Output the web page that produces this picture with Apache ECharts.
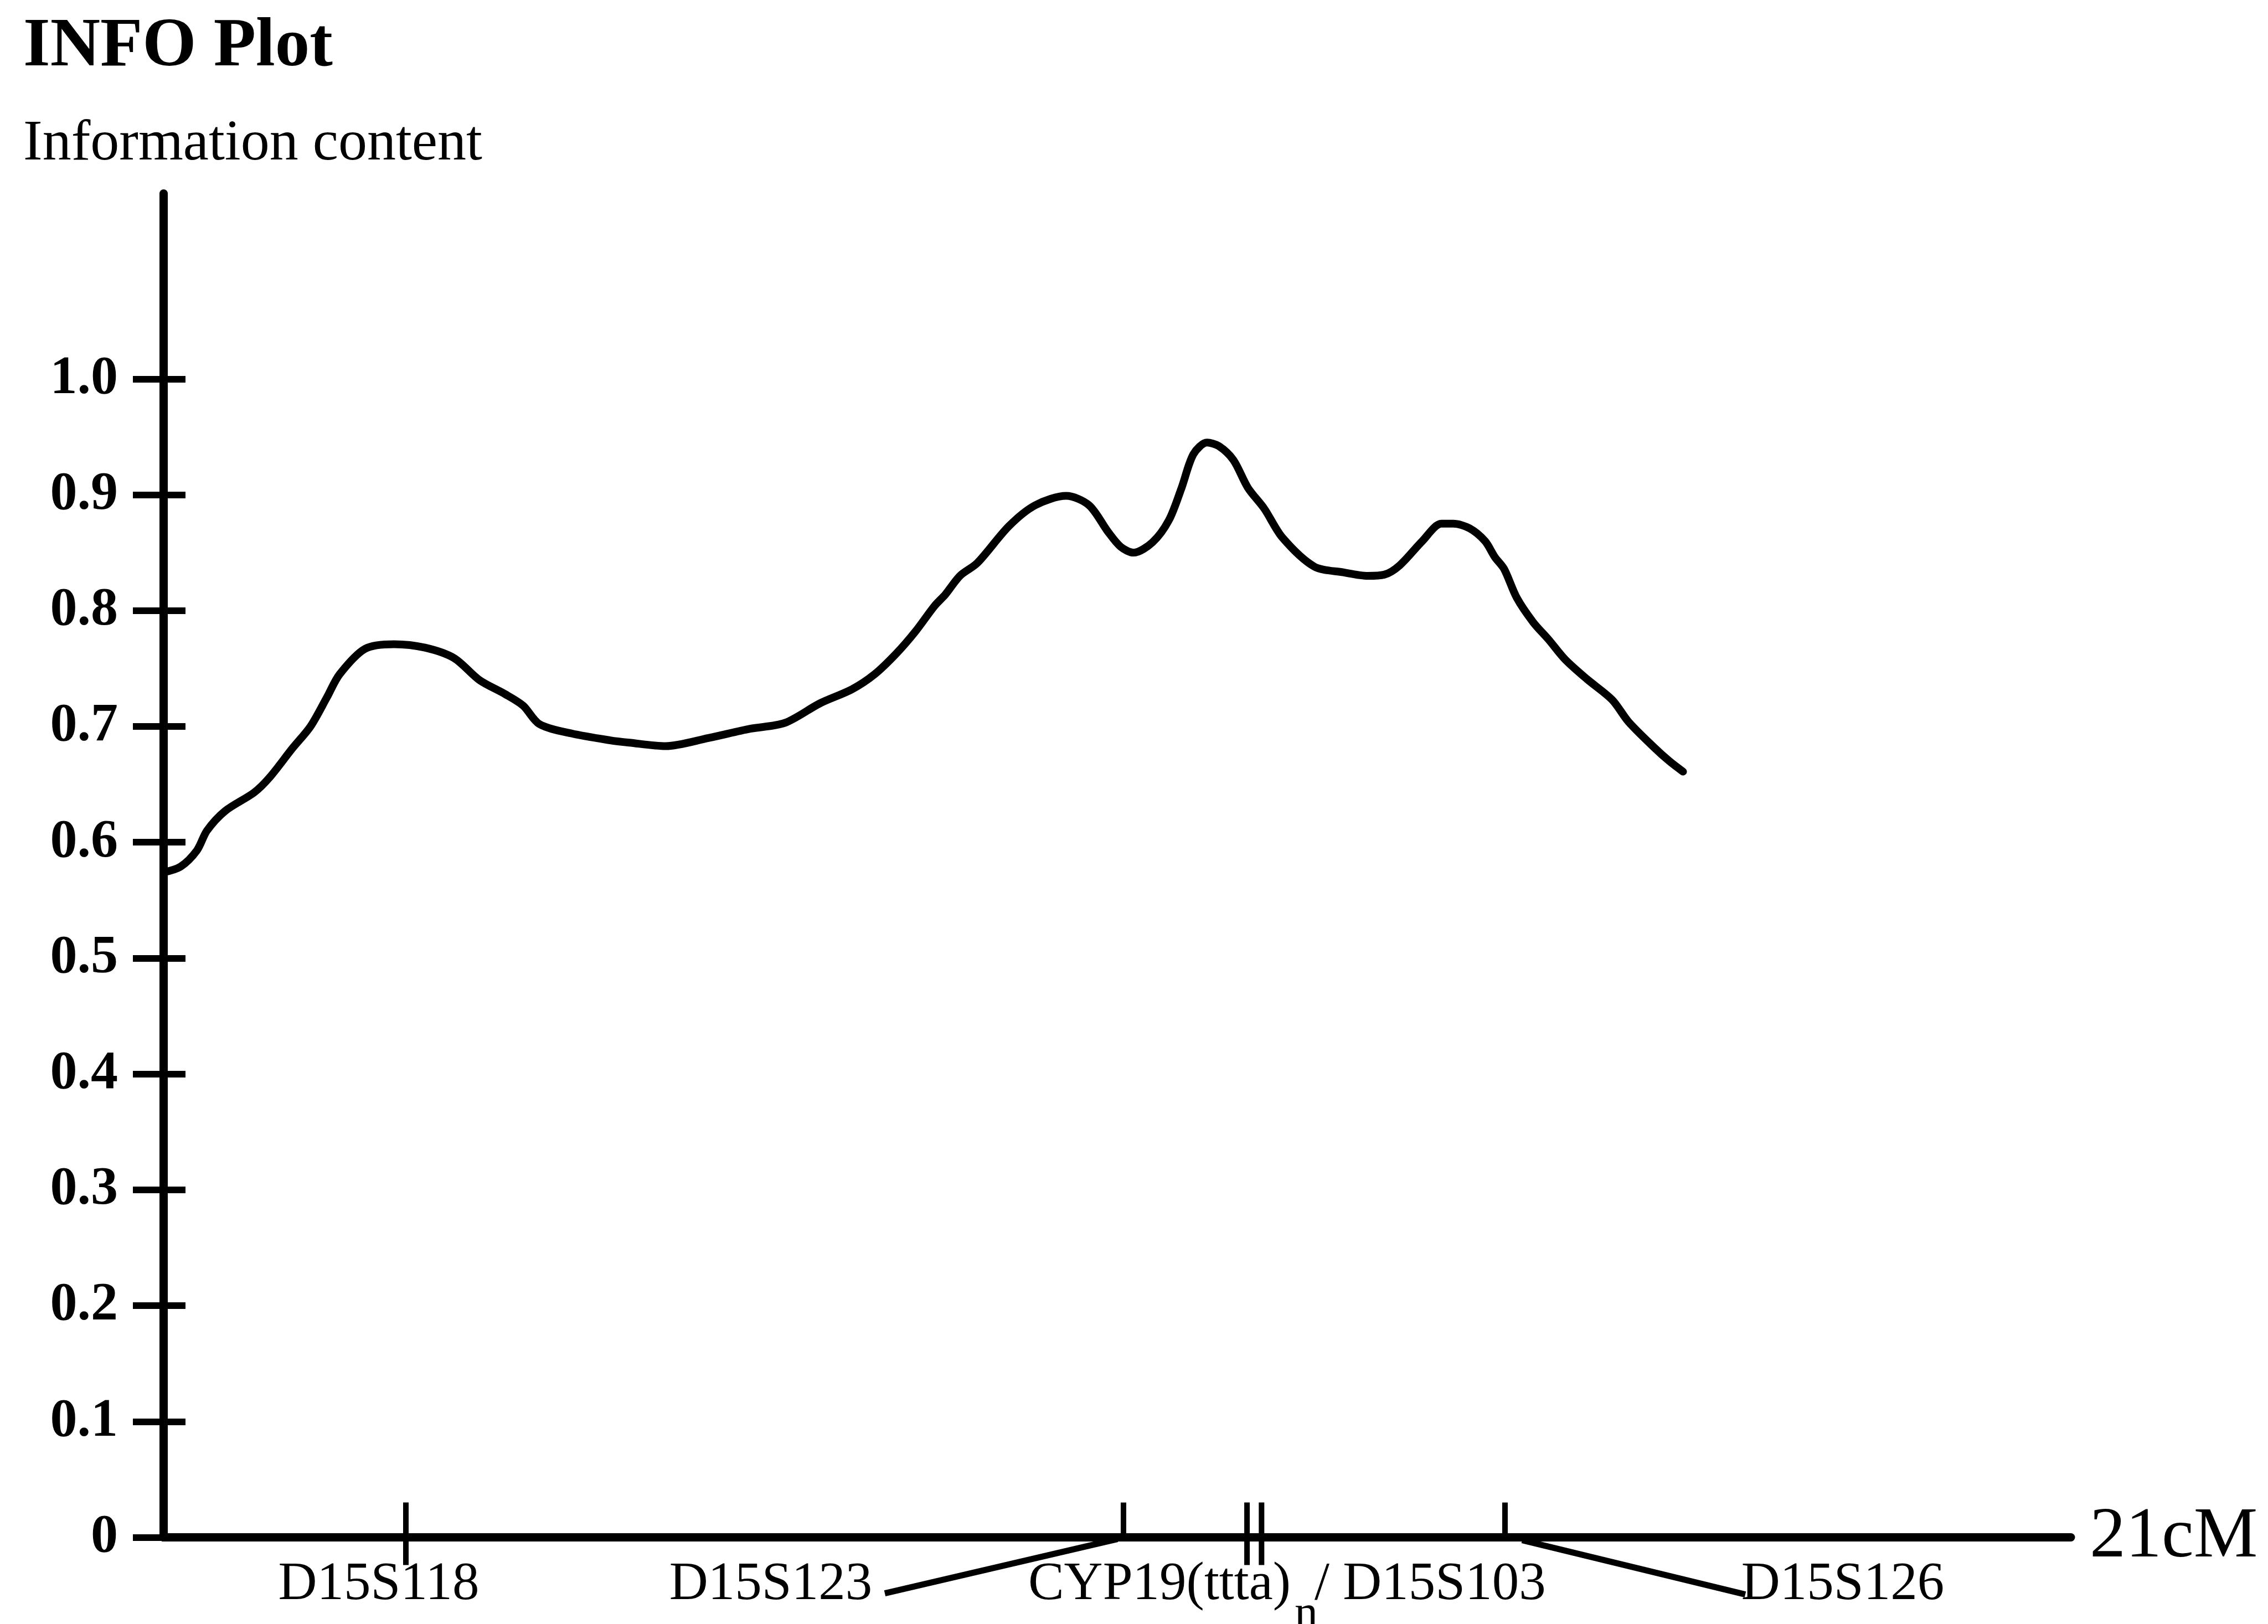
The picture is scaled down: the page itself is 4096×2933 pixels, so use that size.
<!DOCTYPE html>
<html>
<head>
<meta charset="utf-8">
<script src="https://cdn.jsdelivr.net/npm/echarts@6/dist/echarts.min.js"></script>
<style>
html,body{margin:0;padding:0;background:#fff;}
#chart{width:4096px;height:2933px;}
</style>
</head>
<body>
<div id="chart"></div>
<script>
// ---- data ----
const titleText = 'INFO Plot';
const yAxisTitle = 'Information content';
const xAxisTitle = '21cM';
const xMin = 0, xMax = 21;          // cM
const yMin = 0, yMax = 1.16;
const yTicks = [0, 0.1, 0.2, 0.3, 0.4, 0.5, 0.6, 0.7, 0.8, 0.9, 1.0];
const yTickLabels = ['0', '0.1', '0.2', '0.3', '0.4', '0.5', '0.6', '0.7', '0.8', '0.9', '1.0'];

// position along the map (cM)
const curveCM = [0.00, 0.19, 0.37, 0.48, 0.68, 1.00, 1.17, 1.42, 1.62, 1.80,
  1.94, 2.22, 2.54, 2.88, 3.20, 3.48, 3.76, 3.96, 4.14, 4.49,
  4.92, 5.13, 5.53, 6.00, 6.46, 6.84, 7.23, 7.58, 7.83, 8.07,
  8.28, 8.49, 8.61, 8.77, 8.96, 9.31, 9.60, 9.94, 10.19, 10.40,
  10.54, 10.68, 10.89, 11.07, 11.21, 11.34, 11.49, 11.62, 11.78, 11.94,
  12.12, 12.32, 12.67, 12.99, 13.26, 13.44, 13.61, 13.86, 14.07, 14.20,
  14.38, 14.55, 14.66, 14.76, 14.90, 15.08, 15.25, 15.43, 15.67, 15.95,
  16.13, 16.41, 16.58, 16.73];
// information content
const infoContent = [0.574, 0.579, 0.593, 0.610, 0.627, 0.643, 0.656, 0.681, 0.700, 0.725,
  0.745, 0.767, 0.771, 0.768, 0.759, 0.740, 0.728, 0.718, 0.702, 0.694,
  0.688, 0.686, 0.683, 0.690, 0.698, 0.703, 0.720, 0.732, 0.745, 0.763,
  0.782, 0.804, 0.814, 0.830, 0.841, 0.873, 0.891, 0.899, 0.891, 0.868,
  0.855, 0.850, 0.859, 0.878, 0.906, 0.935, 0.945, 0.942, 0.930, 0.906,
  0.888, 0.863, 0.838, 0.833, 0.830, 0.831, 0.839, 0.860, 0.875, 0.875,
  0.871, 0.860, 0.846, 0.836, 0.811, 0.790, 0.775, 0.758, 0.741, 0.723,
  0.704, 0.682, 0.670, 0.661];

// marker positions (cM) and their labels
const markerCM = [2.67, 10.57, 11.93, 12.09, 14.77];
const markerLabels = [['D15S118'], ['D15S123'], ['CYP19(ttta)', 'n', '/ D15S103'], [], ['D15S126']];

// ---- layout / style (pixels) ----
const FONT = '"Liberation Serif", "Times New Roman", serif';
const LBL = 97;
const markerLayout = [
  { up: 63, down: 50, texts: [{ dx: -49, dy: 86, align: 'center', va: 'middle', size: LBL }] },
  { up: 63, down: 0, leader: [-11, 3, -431, 101], texts: [{ dx: -637, dy: 86, align: 'center', va: 'middle', size: LBL }] },
  { up: 63, down: 50, texts: [
      { dx: 79, dy: 86, align: 'right', va: 'middle', size: LBL },
      { dx: 86, dy: 98, align: 'left', va: 'top', size: 84 },
      { dx: 122, dy: 86, align: 'left', va: 'middle', size: LBL }] },
  { up: 63, down: 50, texts: [] },
  { up: 63, down: 0, leader: [31, 5, 434, 103], texts: [{ dx: 610, dy: 86, align: 'center', va: 'middle', size: LBL }] }
];

const chart = echarts.init(document.getElementById('chart'), null, { renderer: 'canvas' });

function labelFor(v) {
  for (let i = 0; i < yTicks.length; i++) if (Math.abs(yTicks[i] - v) < 1e-6) return yTickLabels[i];
  return '';
}

const option = {
  backgroundColor: '#ffffff',
  animation: false,
  title: [
    { text: titleText, left: 37, top: 18,
      textStyle: { fontFamily: FONT, fontWeight: 'bold', fontSize: 125, color: '#000' } },
    { text: yAxisTitle, left: 37, top: 204,
      textStyle: { fontFamily: FONT, fontWeight: 'normal', fontSize: 104, color: '#000' } }
  ],
  grid: { left: 295, right: 356, top: 349.5, bottom: 156.4, containLabel: false },
  xAxis: {
    type: 'value', min: xMin, max: xMax,
    name: xAxisTitle, nameLocation: 'end', nameGap: 34,
    nameTextStyle: { fontFamily: FONT, fontSize: 130, color: '#000', align: 'left', verticalAlign: 'middle', padding: [0, 0, 40, 0] },
    axisLine: { show: true, onZero: true, lineStyle: { color: '#000', width: 15 } },
    axisTick: { show: false }, axisLabel: { show: false }, splitLine: { show: false }
  },
  yAxis: [
    { type: 'value', min: yMin, max: yMax, position: 'left',
      axisLine: { show: true, lineStyle: { color: '#000', width: 15 } },
      axisTick: { show: true, inside: false, length: 55, customValues: yTicks, lineStyle: { color: '#000', width: 12 } },
      axisLabel: { show: true, customValues: yTicks, margin: 82, formatter: labelFor,
        fontFamily: FONT, fontWeight: 'bold', fontSize: 98, color: '#000' },
      splitLine: { show: false } },
    { type: 'value', min: yMin, max: yMax, position: 'left', offset: 0,
      axisLine: { show: false },
      axisTick: { show: true, inside: true, length: 40, customValues: yTicks, lineStyle: { color: '#000', width: 12 } },
      axisLabel: { show: false }, splitLine: { show: false } }
  ],
  series: [
    { type: 'line', xAxisIndex: 0, yAxisIndex: 0, silent: true,
      data: curveCM.map((x, i) => [x, infoContent[i]]),
      smooth: 0.3, showSymbol: false, symbol: 'none', clip: false,
      lineStyle: { color: '#000', width: 14, cap: 'round', join: 'round' } },
    { type: 'custom', xAxisIndex: 0, yAxisIndex: 0, silent: true, clip: false,
      data: markerCM.map((x, i) => [x, 0, i]),
      encode: { x: 0, y: 1 },
      renderItem: function (params, api) {
        const i = api.value(2);
        const p = api.coord([api.value(0), 0]);
        const L = markerLayout[i];
        const children = [{
          type: 'line',
          shape: { x1: p[0], y1: p[1] - L.up, x2: p[0], y2: p[1] + L.down },
          style: { stroke: '#000', lineWidth: 10 }
        }];
        if (L.leader) {
          children.push({ type: 'line',
            shape: { x1: p[0] + L.leader[0], y1: p[1] + L.leader[1], x2: p[0] + L.leader[2], y2: p[1] + L.leader[3] },
            style: { stroke: '#000', lineWidth: 11 } });
        }
        const parts = markerLabels[i];
        L.texts.forEach(function (t, k) {
          children.push({ type: 'text', x: p[0] + t.dx, y: p[1] + t.dy,
            style: { text: parts[k], fontFamily: FONT, fontSize: t.size, fill: '#000',
              align: t.align, verticalAlign: t.va } });
        });
        return { type: 'group', children: children };
      }
    }
  ]
};
chart.setOption(option);
</script>
</body>
</html>
